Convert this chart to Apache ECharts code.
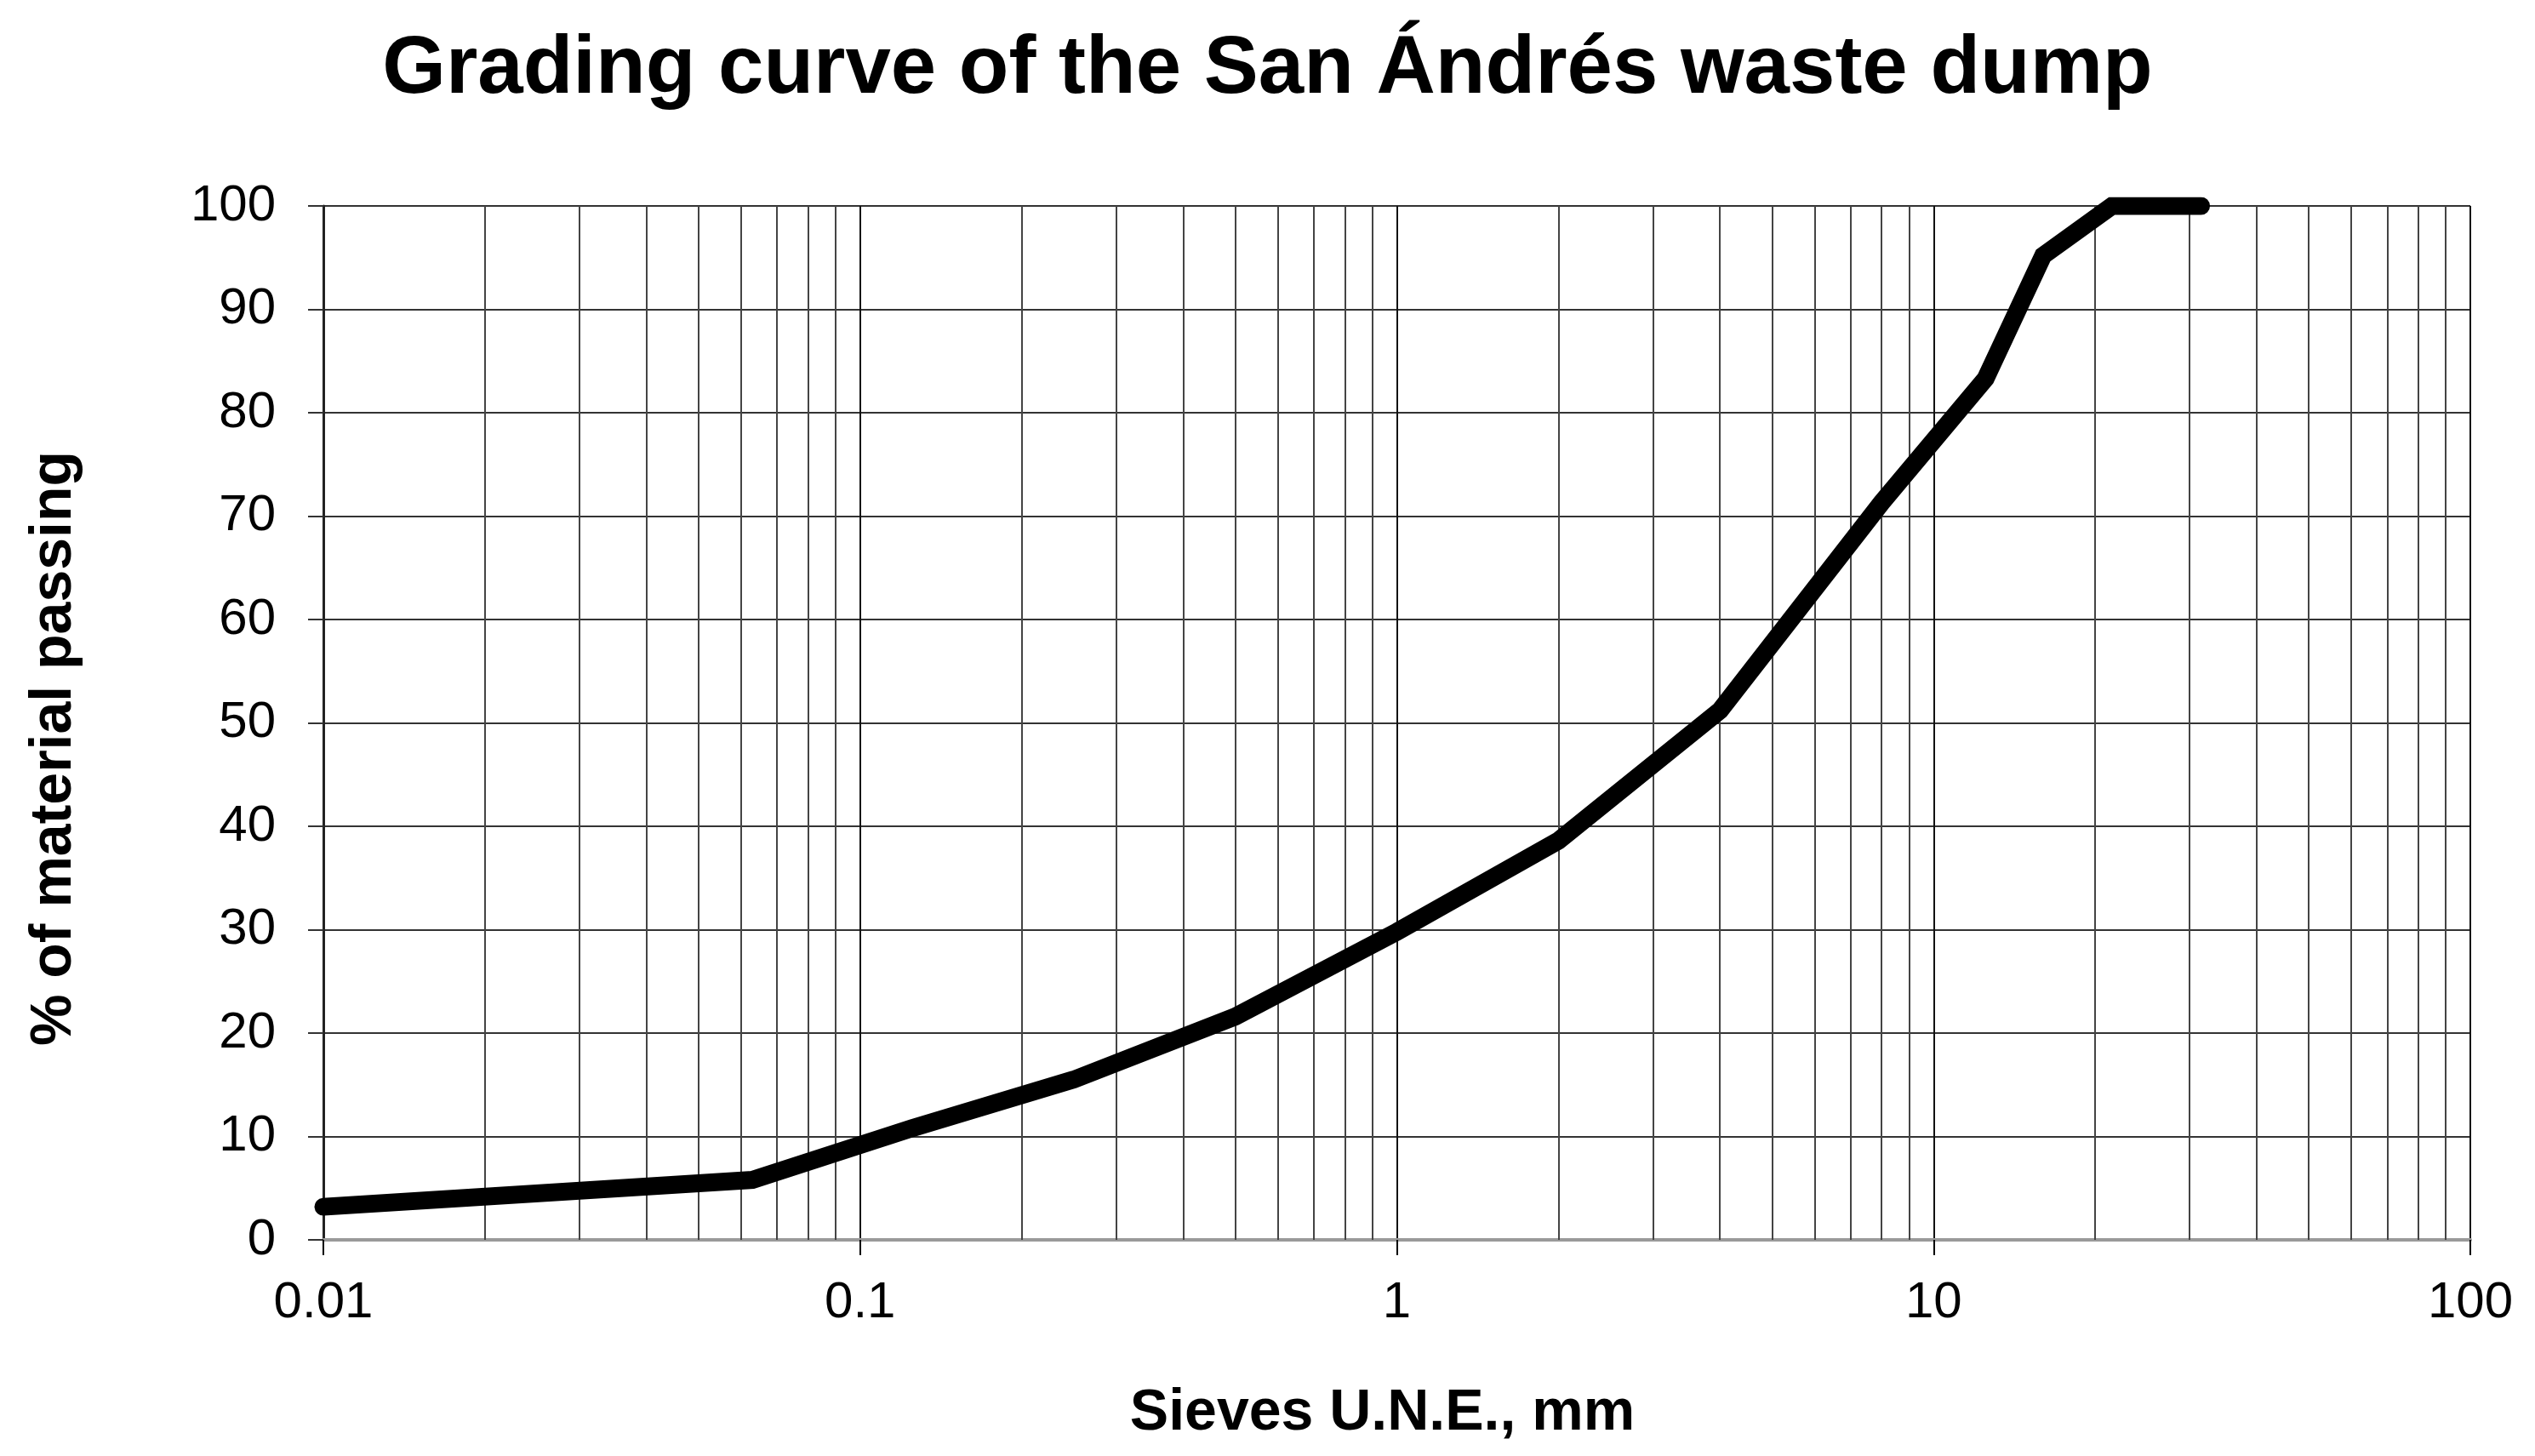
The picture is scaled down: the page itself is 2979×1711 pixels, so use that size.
<!DOCTYPE html>
<html>
<head>
<meta charset="utf-8">
<script src="https://cdn.jsdelivr.net/npm/echarts@6/dist/echarts.min.js"></script>
<style>
html,body{margin:0;padding:0;background:#fff;}
#chart{width:2979px;height:1711px;}
</style>
</head>
<body>
<div id="chart"></div>
<script>
// ---- data ----
var chartTitle = 'Grading curve of the San Ándrés waste dump';
var xAxisName = 'Sieves U.N.E., mm';
var yAxisName = '% of material passing';
var sieveSizes = [0.01, 0.063, 0.125, 0.25, 0.5, 1, 2, 4, 8, 12.5, 16, 21.5, 31.5];
var passing    = [3.2, 5.8, 10.8, 15.5, 21.6, 29.8, 38.6, 51.2, 71.3, 83.3, 95.2, 100, 100];
var xTickValues = [0.01, 0.1, 1, 10, 100];
var xTickLabels = ['0.01', '0.1', '1', '10', '100'];
var yTickLabels = ['0', '10', '20', '30', '40', '50', '60', '70', '80', '90', '100'];
// minor log-paper gridlines (2..9 in each decade)
var decades = [0.01, 0.1, 1, 10];
var minorMultipliers = [2, 3, 4, 5, 6, 7, 8, 9];

var minorGrid = [];
decades.forEach(function (d) {
  minorMultipliers.forEach(function (m) {
    minorGrid.push({ xAxis: +(d * m).toPrecision(6) });
  });
});

var FONT = "'Liberation Sans', Arial, Helvetica, sans-serif";
var chart = echarts.init(document.getElementById('chart'), null, { renderer: 'canvas' });

chart.setOption({
  backgroundColor: '#ffffff',
  animation: false,
  title: {
    text: chartTitle,
    left: 'center',
    top: 30,
    textStyle: { fontFamily: FONT, fontWeight: 'bold', fontSize: 96, color: '#000' }
  },
  grid: { left: 380, right: 76, top: 242, bottom: 254, containLabel: false },
  xAxis: {
    type: 'log',
    logBase: 10,
    min: 0.01,
    max: 100,
    name: xAxisName,
    nameLocation: 'middle',
    nameGap: 170,
    nameTextStyle: { fontFamily: FONT, fontWeight: 'bold', fontSize: 68, color: '#000', padding: [0, 34, 0, 0] },
    axisLine: { show: true, onZero: false, lineStyle: { color: '#9a9a9a', width: 4 } },
    axisTick: { show: true, inside: false, length: 18, lineStyle: { color: '#000', width: 2 } },
    axisLabel: {
      margin: 44,
      fontFamily: FONT, fontSize: 60, color: '#000',
      formatter: function (v) {
        for (var i = 0; i < xTickValues.length; i++) {
          if (Math.abs(Math.log10(v) - Math.log10(xTickValues[i])) < 1e-6) return xTickLabels[i];
        }
        return '';
      }
    },
    splitLine: { show: true, lineStyle: { color: '#111', width: 2 } },
    minorTick: { show: false },
    minorSplitLine: { show: false }
  },
  yAxis: {
    type: 'value',
    min: 0,
    max: 100,
    interval: 10,
    name: yAxisName,
    nameLocation: 'middle',
    nameGap: 282,
    nameRotate: 90,
    nameTextStyle: { fontFamily: FONT, fontWeight: 'bold', fontSize: 68, color: '#000', padding: [0, 60, 0, 0] },
    axisLine: { show: true, lineStyle: { color: '#222', width: 3 } },
    axisTick: { show: true, inside: false, length: 18, lineStyle: { color: '#333', width: 2 } },
    axisLabel: {
      margin: 56,
      fontFamily: FONT, fontSize: 60, color: '#000',
      formatter: function (v) { return yTickLabels[Math.round(v / 10)]; }
    },
    splitLine: { show: true, lineStyle: { color: '#333', width: 2 } }
  },
  series: [
    {
      type: 'line',
      name: 'grid',
      data: [],
      silent: true,
      z: 1,
      markLine: {
        silent: true,
        symbol: ['none', 'none'],
        label: { show: false },
        lineStyle: { color: '#444', width: 2, type: 'solid' },
        emphasis: { disabled: true },
        data: minorGrid
      }
    },
    {
      type: 'line',
      name: 'passing',
      data: sieveSizes.map(function (s, i) { return [s, passing[i]]; }),
      showSymbol: false,
      symbol: 'none',
      clip: true,
      z: 5,
      lineStyle: { color: '#000', width: 21, cap: 'round', join: 'miter', miterLimit: 10 }
    }
  ]
});
</script>
</body>
</html>
